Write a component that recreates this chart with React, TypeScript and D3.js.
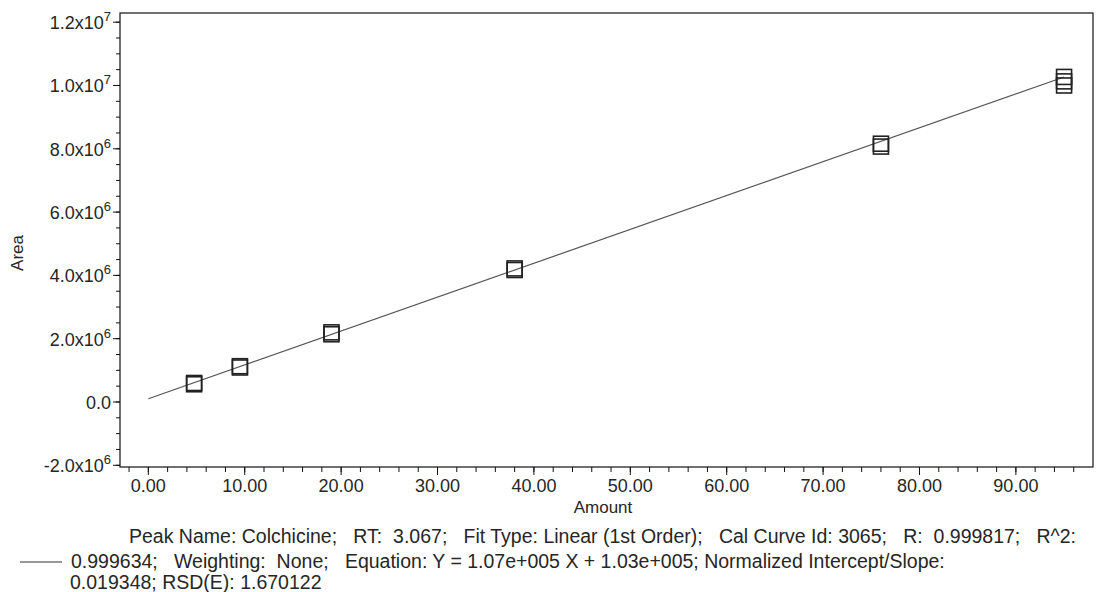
import * as d3 from 'd3';

// calibration standards (amount) and replicate peak areas
const amounts = [4.75, 9.5, 19, 38, 76, 95];
const areaReplicates = [
  [0.56e6, 0.6e6],
  [1.09e6, 1.13e6],
  [2.14e6, 2.2e6],
  [4.17e6, 4.22e6],
  [8.07e6, 8.16e6],
  [1.0e7, 1.013e7, 1.027e7],
];
const slope = 1.07e5;
const intercept = 1.03e5;

const xTicks = [0, 10, 20, 30, 40, 50, 60, 70, 80, 90];
const yTicks = [-2e6, 0, 2e6, 4e6, 6e6, 8e6, 1e7, 1.2e7];

const footLines = [
  'Peak Name: Colchicine;   RT:  3.067;   Fit Type: Linear (1st Order);   Cal Curve Id: 3065;   R:  0.999817;   R^2:',
  '0.999634;   Weighting:  None;   Equation: Y = 1.07e+005 X + 1.03e+005; Normalized Intercept/Slope:',
  '0.019348; RSD(E): 1.670122',
];

const W = 1108;
const H = 592;
const m = { left: 120, top: 13, right: 1093, bottom: 467 };
const font = '"Liberation Sans", Arial, sans-serif';
const ink = '#262626';

function yLabel(v: number) {
  if (v === 0) return { base: '0.0', exp: '' };
  const e = Math.floor(Math.log10(Math.abs(v)));
  return { base: `${(v / 10 ** e).toFixed(1)}x10`, exp: String(e) };
}

export default function App() {
  const x = d3.scaleLinear().domain([-2.94, 98]).range([m.left, m.right]);
  const y = d3.scaleLinear().domain([-2.054e6, 12.29e6]).range([m.bottom, m.top]);

  const xMinor = d3.range(-2, 98, 2);
  const yMinor = d3.range(-2e6, 12.3e6, 0.5e6);

  const fitLine = d3
    .line<number>()
    .x((a) => x(a))
    .y((a) => y(slope * a + intercept))([0, 95]);

  const pts = amounts.flatMap((a, i) => areaReplicates[i].map((v) => ({ a, v })));
  const sq = 15;

  return (
    <svg
      width={W}
      height={H}
      style={{ position: 'absolute', left: 0, top: 0, background: '#fff' }}
      fontFamily={font}
    >
      <rect x={0} y={0} width={W} height={H} fill="#fff" />
      <rect
        x={m.left}
        y={m.top}
        width={m.right - m.left}
        height={m.bottom - m.top}
        fill="none"
        stroke="#111"
        strokeWidth={1.2}
      />

      {/* y axis */}
      {yMinor.map((v) => (
        <line key={'ym' + v} x1={m.left - 4} x2={m.left} y1={y(v)} y2={y(v)} stroke="#111" />
      ))}
      {yTicks.map((v) => {
        const l = yLabel(v);
        return (
          <g key={'yt' + v}>
            <line x1={m.left - 7} x2={m.left} y1={y(v)} y2={y(v)} stroke="#111" />
            <text x={m.left - 9} y={y(v) + 7} textAnchor="end" fontSize={18} fill={ink}>
              {l.base}
              {l.exp && (
                <tspan fontSize={13} dy={-8}>
                  {l.exp}
                </tspan>
              )}
            </text>
          </g>
        );
      })}
      <text
        transform={`translate(23,${(m.top + m.bottom) / 2 + 13}) rotate(-90)`}
        textAnchor="middle"
        fontSize={17}
        fill={ink}
      >
        Area
      </text>

      {/* x axis */}
      {xMinor.map((v) => (
        <line key={'xm' + v} x1={x(v)} x2={x(v)} y1={m.bottom} y2={m.bottom + 5} stroke="#111" />
      ))}
      {xTicks.map((v) => (
        <g key={'xt' + v}>
          <line x1={x(v)} x2={x(v)} y1={m.bottom} y2={m.bottom + 8} stroke="#111" />
          <text x={x(v)} y={m.bottom + 25} textAnchor="middle" fontSize={18} fill={ink}>
            {v.toFixed(2)}
          </text>
        </g>
      ))}
      <text x={603} y={m.bottom + 46} textAnchor="middle" fontSize={17} fill={ink}>
        Amount
      </text>

      {/* fit */}
      <path d={fitLine ?? ''} fill="none" stroke="#555" strokeWidth={1.2} />
      {pts.map((p, i) => (
        <rect
          key={i}
          x={x(p.a) - sq / 2}
          y={y(p.v) - sq / 2}
          width={sq}
          height={sq}
          fill="none"
          stroke="#222"
          strokeWidth={1.6}
        />
      ))}

      {/* footnote */}
      <line x1={20} x2={62} y1={562} y2={562} stroke="#333" strokeWidth={1.2} />
      <text x={129} y={543} fontSize={19.5} fill={ink} style={{ whiteSpace: 'pre' }}>
        {footLines[0]}
      </text>
      <text x={71} y={567.5} fontSize={19.5} fill={ink} style={{ whiteSpace: 'pre' }}>
        {footLines[1]}
      </text>
      <text x={70} y={589} fontSize={19.5} fill={ink} style={{ whiteSpace: 'pre' }}>
        {footLines[2]}
      </text>
    </svg>
  );
}
